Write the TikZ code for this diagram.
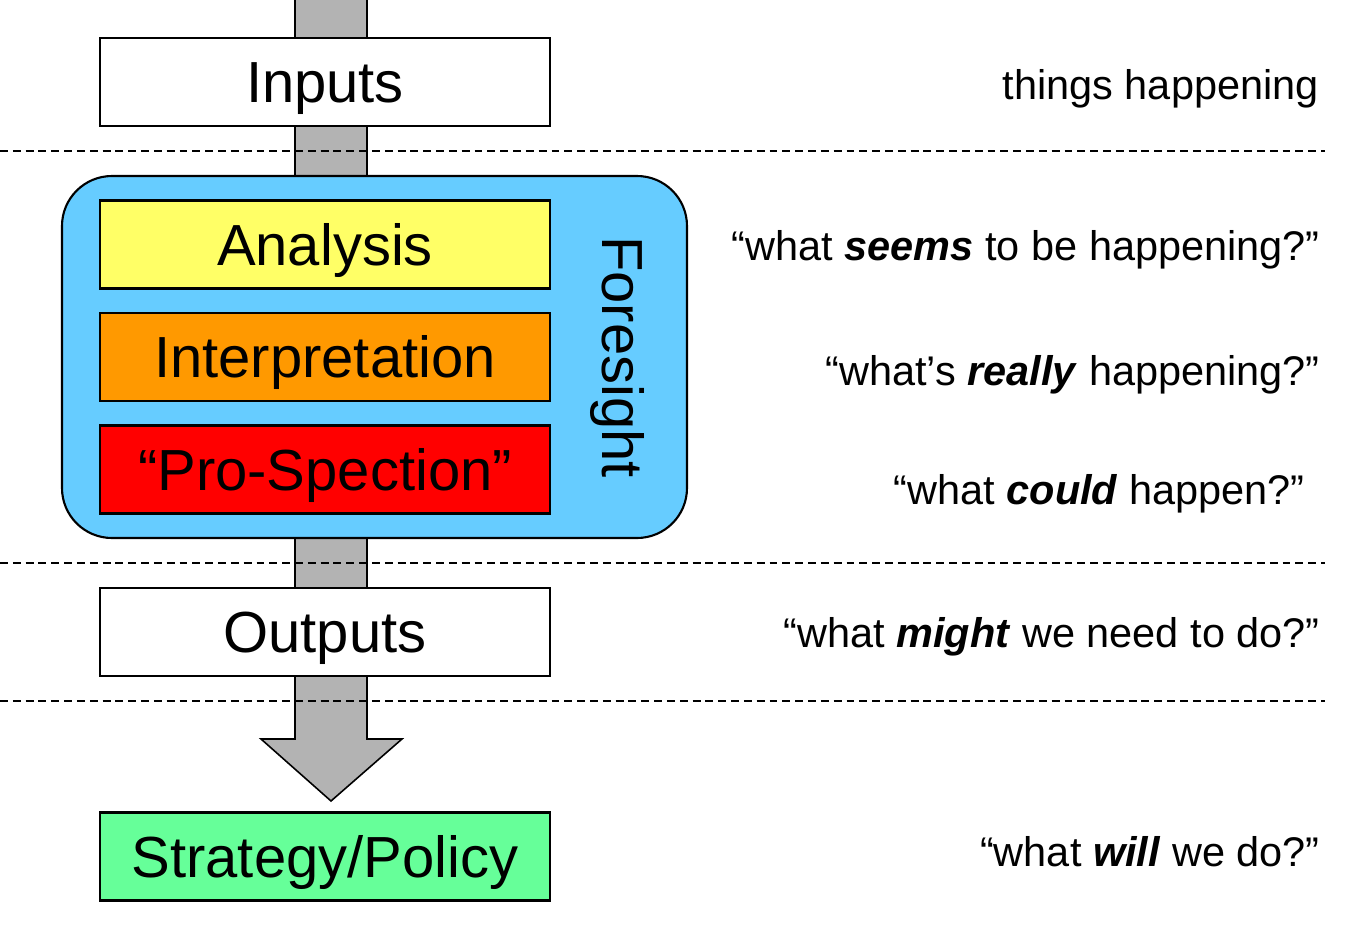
\documentclass[tikz,border=0pt]{standalone}
\usepackage{fontspec}
\setmainfont{Liberation Sans}
\definecolor{fsblue}{HTML}{66CCFF}
\definecolor{anyellow}{HTML}{FFFF66}
\definecolor{inorange}{HTML}{FF9900}
\definecolor{prred}{HTML}{FF0000}
\definecolor{stgreen}{HTML}{66FF99}
\definecolor{shaftgray}{HTML}{B3B3B3}
\tikzset{
  bigtext/.style={inner sep=0pt, text height=23.6pt, text depth=0pt,
    font=\fontsize{33pt}{36pt}\selectfont},
  stagebox/.style={bigtext, draw=black, line width=1.2pt, minimum width=9cm, minimum height=1.76cm},
  question/.style={anchor=base east, inner sep=0pt, font=\fontsize{23.6pt}{28pt}\selectfont},
  divider/.style={line width=0.9pt, dash pattern=on 4.5pt off 2.8pt},
}
\begin{document}
\begin{tikzpicture}[x=0.02cm, y=-0.02cm]
\useasboundingbox (0,0) rectangle (1347,927);
% block arrow
\coordinate (shaftL) at (295,-10);
\coordinate (shaftR) at (367,-10);
\coordinate (tip) at (331,801);
\filldraw[fill=shaftgray, draw=black, line width=0.9pt]
  (shaftL) -- (295,739) -- (261,739) -- (tip) -- (402,739) -- (367,739) -- (shaftR);
% dividers
\coordinate (d1a) at (0,151);   \coordinate (d1b) at (1325,151);
\coordinate (d2a) at (0,563);   \coordinate (d2b) at (1325,563);
\coordinate (d3a) at (0,701);   \coordinate (d3b) at (1325,701);
\draw[divider] (d1a) -- (d1b);
\draw[divider] (d2a) -- (d2b);
\draw[divider] (d3a) -- (d3b);
% foresight container
\draw[fill=fsblue, line width=1.2pt, rounded corners=1cm] (62,176) rectangle (687,538);
\node[bigtext, rotate=-90] (foresight) at (623,357) {Foresight};
% boxes
\node[stagebox, fill=white] (inputs) at (325,82) {Inputs};
\node[stagebox, fill=anyellow] (analysis) at (325,244.5) {Analysis};
\node[stagebox, fill=inorange] (interp) at (325,357) {Interpretation};
\node[stagebox, fill=prred] (prosp) at (325,469.5) {“Pro-Spection”};
\node[stagebox, fill=white] (outputs) at (325,632) {Outputs};
\node[stagebox, fill=stgreen] (strategy) at (325,856.5) {Strategy/Policy};
% questions
\node[question] (q1) at (1319,99) {things happening};
\node[question] (q2) at (1320,260) {“what \textbf{\textit{seems}} to be happening?”};
\node[question] (q3) at (1320,385) {“what’s \textbf{\textit{really}} happening?”};
\node[question] (q4) at (1305,504) {“what \textbf{\textit{could}} happen?”};
\node[question] (q5) at (1320,647) {“what \textbf{\textit{might}} we need to do?”};
\node[question] (q6) at (1320,866) {“what \textbf{\textit{will}} we do?”};
\end{tikzpicture}
\end{document}
